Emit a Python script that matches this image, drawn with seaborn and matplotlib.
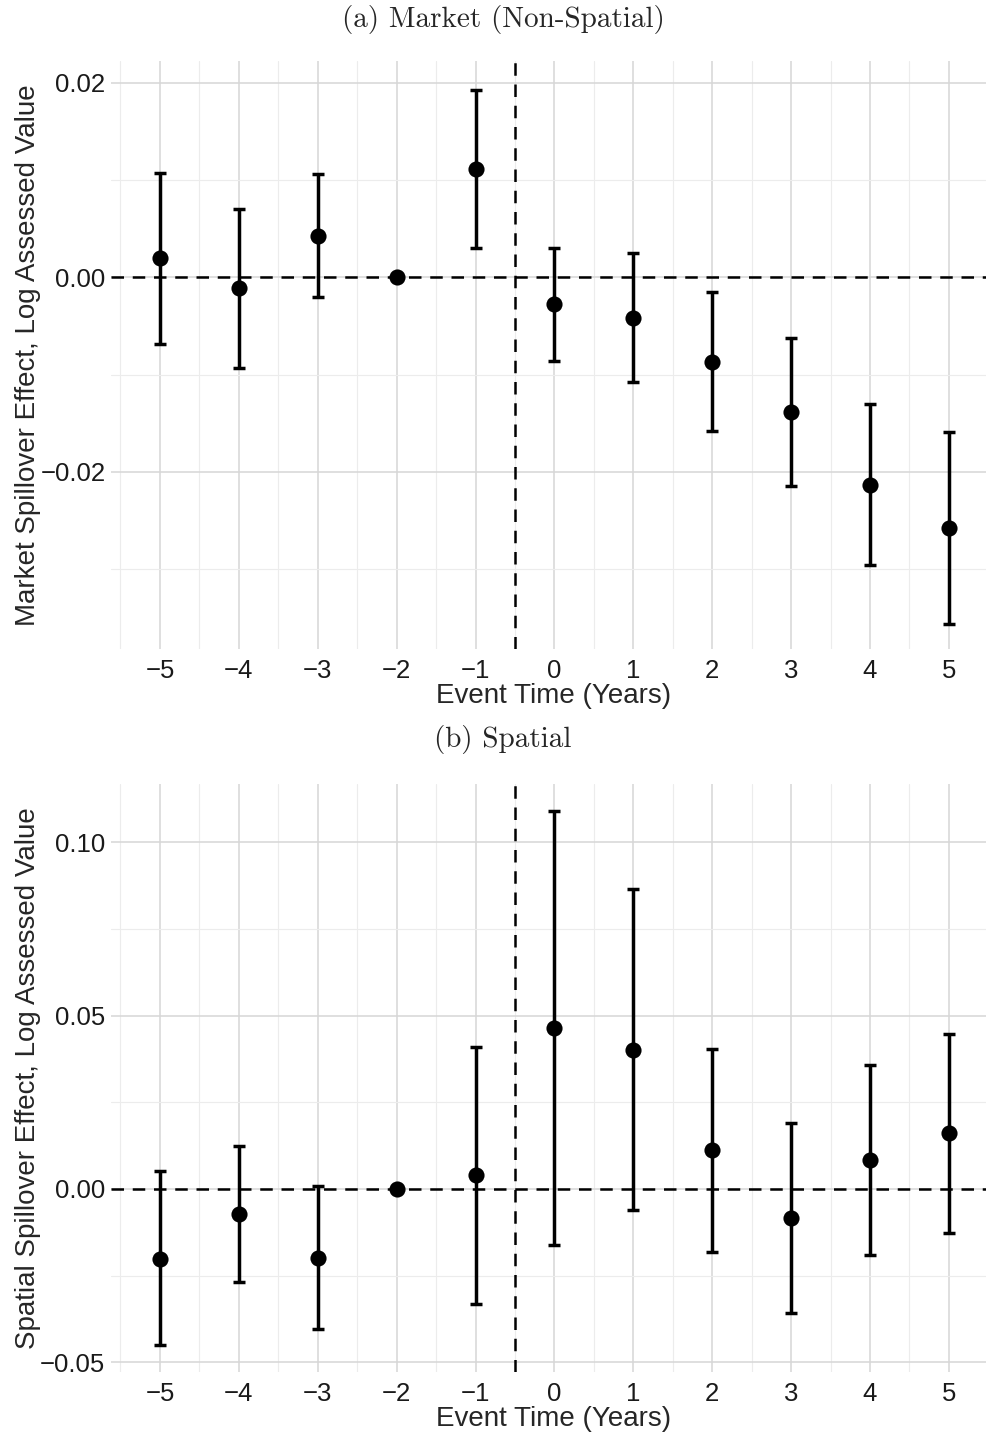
import matplotlib
matplotlib.use("Agg")
import numpy as np
import pandas as pd
import matplotlib.pyplot as plt
import seaborn as sns
from matplotlib.ticker import MultipleLocator, FuncFormatter

### data
event_time = [-5, -4, -3, -2, -1, 0, 1, 2, 3, 4, 5]

market_est = [0.00195, -0.00113, 0.00428, 0.0, 0.01113, -0.00277, -0.00414, -0.00872, -0.01385, -0.02133, -0.0258]
market_lo = [-0.0068, -0.0093, -0.0020, 0.0, 0.00304, -0.0086, -0.01077, -0.0158, -0.02148, -0.0296, -0.03564]
market_hi = [0.01075, 0.00705, 0.0106, 0.0, 0.01925, 0.0030, 0.00246, -0.00154, -0.00623, -0.01302, -0.0159]

spatial_est = [-0.0201, -0.0072, -0.0198, 0.0, 0.0039, 0.0463, 0.0400, 0.0112, -0.0085, 0.0084, 0.0162]
spatial_lo = [-0.0451, -0.0268, -0.0403, 0.0, -0.0333, -0.0162, -0.0061, -0.0183, -0.0358, -0.0191, -0.0126]
spatial_hi = [0.0051, 0.0124, 0.0008, 0.0, 0.0410, 0.1091, 0.0864, 0.0403, 0.0190, 0.0356, 0.0447]

sns.set_theme(style="white")
plt.rcParams["font.family"] = ["Liberation Sans", "DejaVu Sans"]


def fmt_tick(v, pos):
    return "{:.2f}".format(v).replace("-", "\u2212")


def draw_panel(ax, est, lo, hi, ylim, major, ylabel):
    df = pd.DataFrame({"t": event_time, "est": est, "lo": lo, "hi": hi})

    ax.set_xlim(-5.62, 5.47)
    ax.set_ylim(*ylim)

    ax.xaxis.set_major_locator(MultipleLocator(1))
    ax.xaxis.set_minor_locator(MultipleLocator(0.5))
    ax.yaxis.set_major_locator(MultipleLocator(major))
    ax.yaxis.set_minor_locator(MultipleLocator(major / 2))
    ax.yaxis.set_major_formatter(FuncFormatter(fmt_tick))
    ax.xaxis.set_major_formatter(FuncFormatter(lambda v, p: "{:d}".format(int(round(v))).replace("-", "\u2212")))

    ax.grid(which="major", color="#d6d6d6", linewidth=1.1)
    ax.grid(which="minor", color="#ececec", linewidth=0.8)
    ax.set_axisbelow(True)
    for s in ax.spines.values():
        s.set_visible(False)
    ax.tick_params(which="both", length=0, labelsize=18.5, colors="#1a1a1a")
    ax.tick_params(axis="y", pad=4)
    ax.tick_params(axis="x", pad=7)

    ax.axhline(0, color="black", linestyle=(0, (5, 3.5)), linewidth=1.8, zorder=2)
    ax.axvline(-0.5, color="black", linestyle=(0, (5, 3.5)), linewidth=1.8, zorder=2)

    ax.errorbar(df["t"], df["est"],
                yerr=[df["est"] - df["lo"], df["hi"] - df["est"]],
                fmt="none", ecolor="black", elinewidth=2.5,
                capsize=4.3, capthick=2.5, zorder=3)
    sns.scatterplot(data=df, x="t", y="est", ax=ax, color="black",
                    s=135, edgecolor="black", linewidth=0, zorder=4)

    ax.set_xlabel("Event Time (Years)", fontsize=20)
    ax.xaxis.set_label_coords(0.5 + (554 - 548.5) / 875, -0.058)
    ax.set_ylabel(ylabel, fontsize=20)
    ax.yaxis.set_label_coords(-0.08, 0.5)


fig = plt.figure(figsize=(9.86, 14.35), dpi=100)
ax1 = fig.add_axes([0.1126, 0.5477, 0.8874, 0.4095])
ax2 = fig.add_axes([0.1126, 0.0439, 0.8874, 0.4098])

draw_panel(ax1, market_est, market_lo, market_hi, (-0.0382, 0.0222), 0.02,
           "Market Spillover Effect, Log Assessed Value")
draw_panel(ax2, spatial_est, spatial_lo, spatial_hi, (-0.0528, 0.1168), 0.05,
           "Spatial Spillover Effect, Log Assessed Value")

fig.text(503 / 986, 1 - 20 / 1435, "(a) Market (Non-Spatial)", ha="center", va="center",
         fontfamily="cmr10", fontsize=21)
fig.text(503 / 986, 1 - 739 / 1435, "(b) Spatial", ha="center", va="center",
         fontfamily="cmr10", fontsize=21)

fig.savefig("out.png", dpi=100)
